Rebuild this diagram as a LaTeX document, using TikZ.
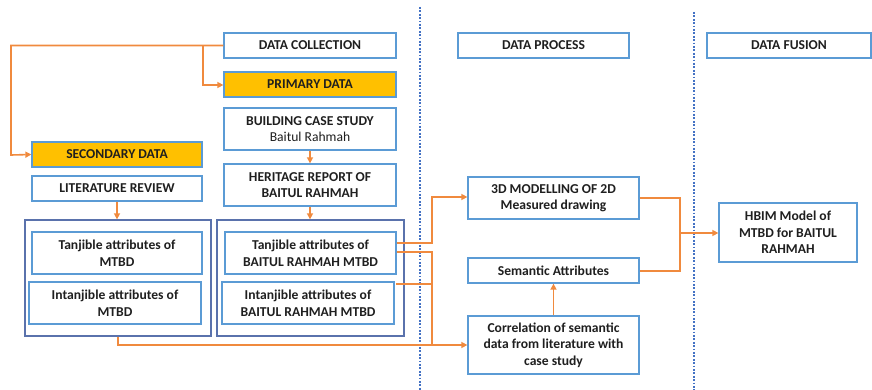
\documentclass[tikz,border=0pt]{standalone}
\usepackage{fontspec}
\setmainfont{Carlito}
\usetikzlibrary{arrows.meta}
\definecolor{bx}{HTML}{5B9BD5}
\definecolor{ob}{HTML}{5A72AC}
\definecolor{orng}{HTML}{F08A3E}
\definecolor{gold}{HTML}{FFC000}
\definecolor{dotb}{HTML}{4472C4}
\begin{document}
\begin{tikzpicture}[x=1pt,y=-1pt,
 box/.style={draw=bx, line width=1.3pt, fill=white, inner sep=1pt, align=center,
   font=\bfseries\fontsize{13.6}{16.6}\selectfont, text=black!88},
 goldbox/.style={box, fill=gold},
 outer/.style={draw=ob, line width=1.3pt, inner sep=0pt},
 conn/.style={draw=orng, line width=1.6pt},
 arr/.style={conn, -{Triangle[length=6pt,width=6pt]}},
 sep/.style={draw=dotb, line width=2.6pt, dash pattern=on 1.8pt off 1.6pt}]
\useasboundingbox (0,0) rectangle (872,390);

% separators
\draw[sep] (420,7) -- (420,390);
\draw[sep] (694,12) -- (694,390);

% outer groups
\node[outer, minimum width=186pt, minimum height=116pt] (lo) at (118,278) {};
\node[outer, minimum width=187pt, minimum height=116pt] (ro) at (310.5,278) {};

% boxes
\node[box, minimum width=172pt, minimum height=25pt] (dc) at (310,45.5) {DATA COLLECTION};
\node[goldbox, minimum width=172pt, minimum height=25pt] (pd) at (310,84.5) {PRIMARY DATA};
\node[box, minimum width=172pt, minimum height=42pt] (bcs) at (310,129) {BUILDING CASE STUDY\\{\mdseries Baitul Rahmah}};
\node[box, minimum width=172pt, minimum height=42pt] (hr) at (310,185) {HERITAGE REPORT OF\\BAITUL RAHMAH};
\node[goldbox, minimum width=170pt, minimum height=25pt] (sd) at (117,154.5) {SECONDARY DATA};
\node[box, minimum width=170pt, minimum height=25pt] (lr) at (117,188.5) {LITERATURE REVIEW};
\node[box, minimum width=170pt, minimum height=42pt] (tm) at (117,253) {Tanjible attributes of\\MTBD};
\node[box, minimum width=172pt, minimum height=42pt] (im) at (115,303) {Intanjible attributes of\\MTBD};
\node[box, minimum width=171pt, minimum height=42pt] (tb) at (310.5,253) {Tanjible attributes of\\BAITUL RAHMAH MTBD};
\node[box, minimum width=172pt, minimum height=42pt] (ib) at (308,303) {Intanjible attributes of\\BAITUL RAHMAH MTBD};
\node[box, minimum width=171pt, minimum height=25pt] (dp) at (543.5,45.5) {DATA PROCESS};
\node[box, minimum width=164pt, minimum height=25pt] (df) at (789,45.5) {DATA FUSION};
\node[box, minimum width=171pt, minimum height=42pt] (m3d) at (553.5,198) {3D MODELLING OF 2D\\Measured drawing};
\node[box, minimum width=171pt, minimum height=25pt] (sa) at (553.5,270.5) {Semantic Attributes};
\node[box, minimum width=171pt, minimum height=58pt] (cor) at (553.5,345) {Correlation of semantic\\data from literature with\\case study};
\node[box, minimum width=138pt, minimum height=59pt] (hbim) at (788,232.5) {HBIM Model of\\MTBD for BAITUL\\RAHMAH};

% connectors
\draw[arr] (dc.west) -- (11,45.5) -- (11,155) -- (sd.west);
\draw[arr] (203,45.5) -- (203,85) -- (pd.west |- 0,85);
\draw[arr] (bcs.south) -- (hr.north);
\draw[arr] (lr.south) -- (lr.south |- lo.north);
\draw[arr] (hr.south) -- (hr.south |- ro.north);
\draw[arr] (lo.south) -- (118,345) -- (cor.west);
\draw[arr] (tb.east |- 0,243) -- (432,243) -- (432,197) -- (m3d.west |- 0,197);
\draw[conn] (tb.east |- 0,252) -- (432,252) -- (432,345);
\draw[conn] (396,284) -- (432,284);
\draw[arr] (cor.north) -- (sa.south);
\draw[conn] (m3d.east) -- (680,198) -- (680,271) -- (sa.east |- 0,271);
\draw[arr] (680,233) -- (hbim.west |- 0,233);
\end{tikzpicture}
\end{document}
